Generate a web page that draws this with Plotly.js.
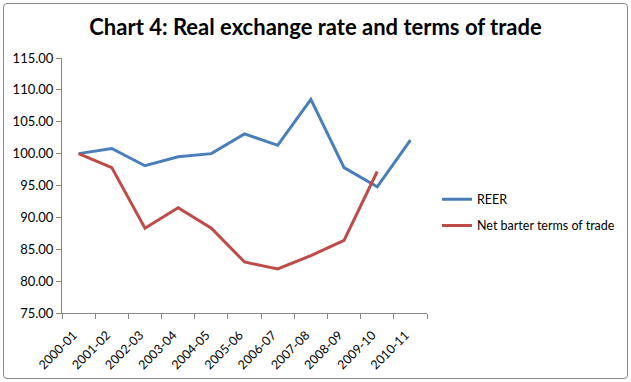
<!DOCTYPE html>
<html>
<head>
<meta charset="utf-8">
<script src="https://cdn.plot.ly/plotly-3.0.1.min.js"></script>
<style>
  html, body { margin: 0; padding: 0; background: #fff; }
  #wrap { position: relative; width: 631px; height: 382px; }
  #chart { position: absolute; left: 0; top: 0; width: 631px; height: 382px; }
  #frame { position: absolute; left: 3px; top: 3px; width: 623px; height: 374px;
           border: 1.5px solid #8a8a8a; border-radius: 4px; pointer-events: none; }
</style>
</head>
<body>
<div id="wrap">
  <div id="chart"></div>
  <div id="frame"></div>
</div>
<script>
const categories = ["2000-01","2001-02","2002-03","2003-04","2004-05","2005-06","2006-07","2007-08","2008-09","2009-10","2010-11"];
const reer = [100.0, 100.8, 98.1, 99.5, 100.0, 103.1, 101.3, 108.5, 97.8, 94.8, 102.1];
const tradeCategories = ["2000-01","2001-02","2002-03","2003-04","2004-05","2005-06","2006-07","2007-08","2008-09","2009-10"];
const netBarter = [100.0, 97.8, 88.3, 91.5, 88.3, 83.0, 81.9, 84.0, 86.4, 97.2];
const yTicks = [75, 80, 85, 90, 95, 100, 105, 110, 115];

const fontFam = "Lato, 'Open Sans', sans-serif";

const traces = [
  { x: categories, y: reer, type: "scatter", mode: "lines", name: "REER",
    legendgroup: "a", line: { color: "#4A7EBB", width: 3 } },
  { x: tradeCategories, y: netBarter, type: "scatter", mode: "lines", name: "Net barter terms of trade",
    legendgroup: "b", line: { color: "#BE4B48", width: 3 } }
];

const layout = {
  width: 631, height: 382,
  margin: { l: 62, r: 203, t: 58, b: 69 },
  paper_bgcolor: "#ffffff", plot_bgcolor: "#ffffff",
  font: { family: fontFam, size: 12, color: "#000" },
  title: { text: "<b>Chart 4: Real exchange rate and terms of trade</b>",
           font: { family: fontFam, size: 22, color: "#000" },
           x: 0.5, xref: "container", xanchor: "center", y: 0.928, yref: "container", yanchor: "middle" },
  xaxis: {
    type: "category", categoryorder: "array", categoryarray: categories,
    range: [-0.5, categories.length - 0.5],
    tickson: "boundaries", ticks: "outside", ticklen: 5, tickcolor: "#868686",
    showline: true, linecolor: "#868686", linewidth: 1,
    showgrid: false, zeroline: false, tickangle: -45,
    ticklabelstandoff: 9, ticklabelshift: -5,
    tickfont: { family: fontFam, size: 12.5, color: "#000" }
  },
  yaxis: {
    range: [75, 115], tickvals: yTicks, tickformat: ".2f",
    ticks: "outside", ticklen: 5, tickcolor: "#868686",
    showline: true, linecolor: "#868686", linewidth: 1,
    showgrid: false, zeroline: false,
    tickfont: { family: fontFam, size: 13, color: "#000" }
  },
  showlegend: true,
  legend: { x: 1.0246, xanchor: "left", y: 0.394, yanchor: "middle",
            traceorder: "grouped", tracegroupgap: 7,
            font: { family: fontFam, size: 12.5, color: "#000" },
            bgcolor: "rgba(0,0,0,0)" }
};

Plotly.newPlot("chart", traces, layout, { staticPlot: true, displayModeBar: false });
</script>
</body>
</html>
